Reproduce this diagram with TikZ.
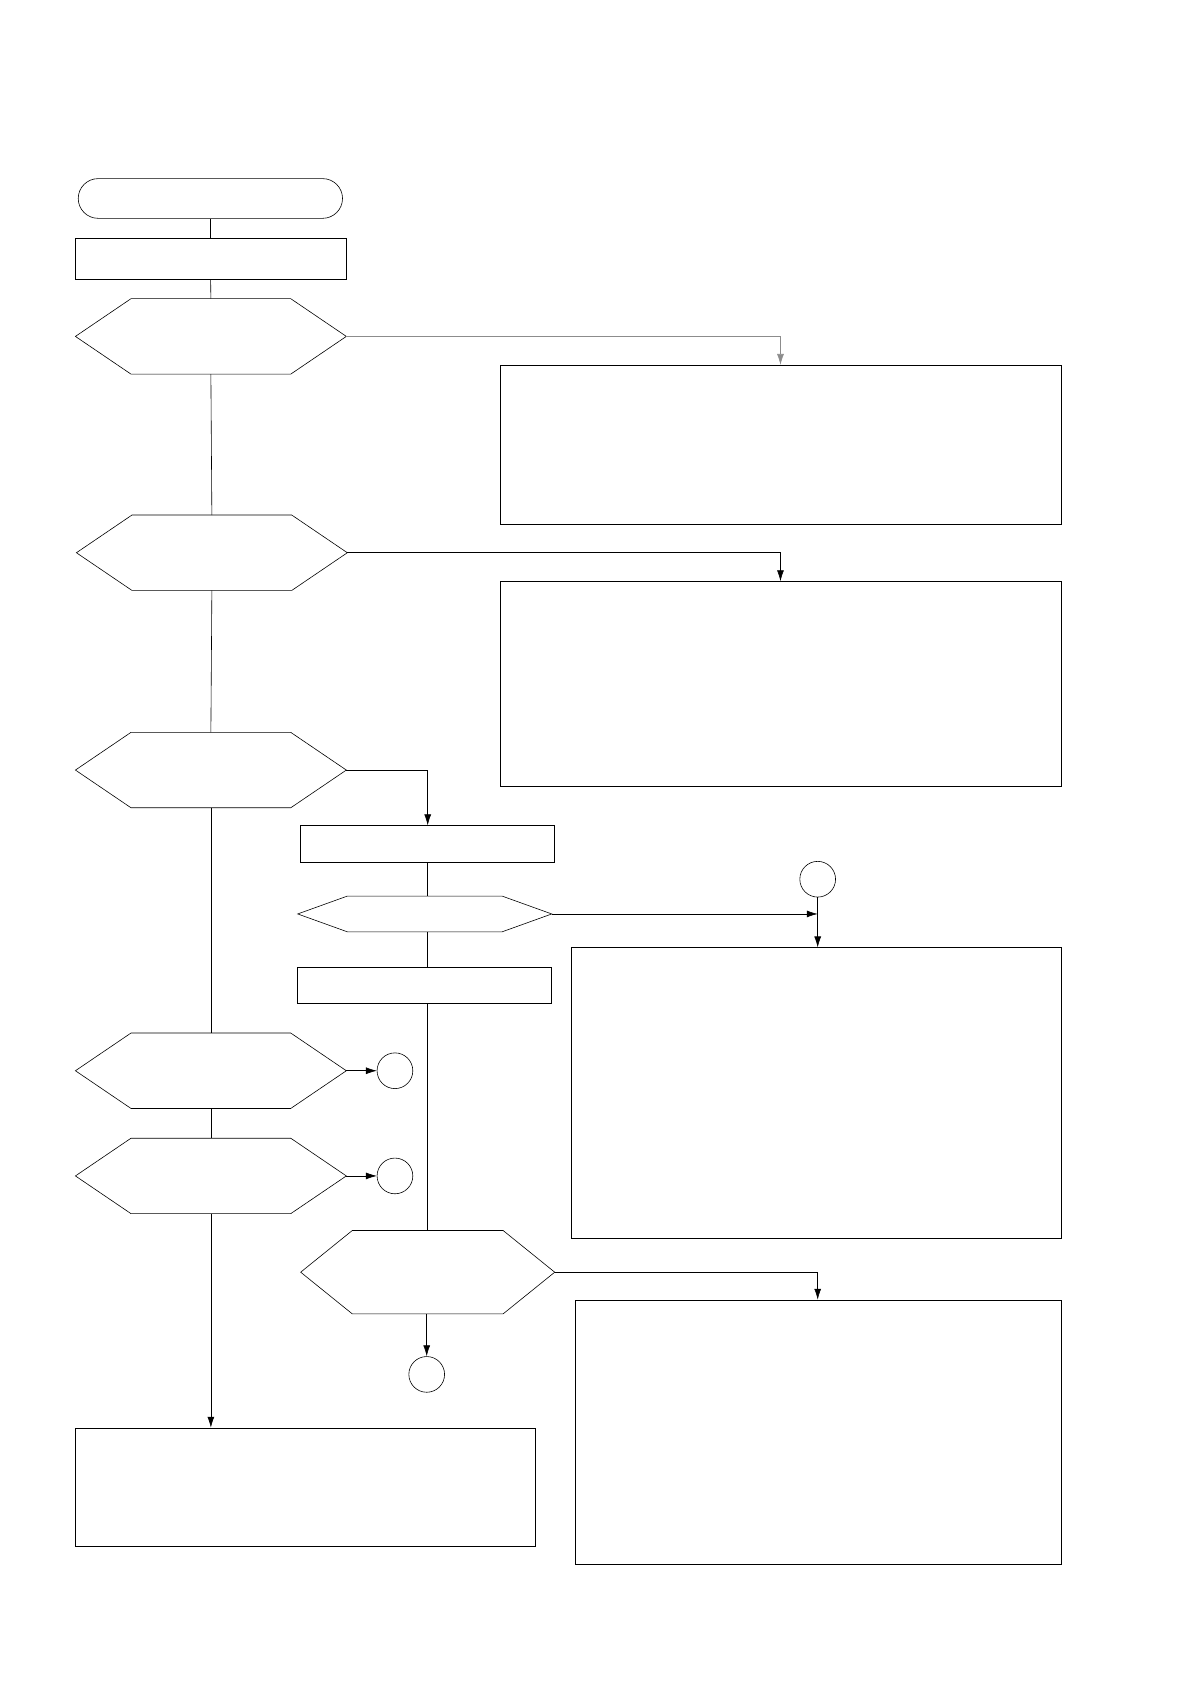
\documentclass[tikz,border=0pt]{standalone}
\usetikzlibrary{positioning}
\usetikzlibrary{shapes,arrows,arrows.meta,shapes.geometric,calc}
\tikzset{
    % Define styles
    pil/.style={-{Latex[length=11pt,width=7pt]}, semithick},
    lin/.style={semithick},
    box/.style={draw, semithick, rectangle, inner sep=0pt},
    conn/.style={draw, semithick, circle, minimum size=36pt, inner sep=0pt},
}
\newcommand{\hexa}[6]{% name, x1, x2, y1, y2, inset
  \draw[semithick] (#2,{(#4+#5)/2}) -- (#2+#6,#4) -- (#3-#6,#4) -- (#3,{(#4+#5)/2})
        -- (#3-#6,#5) -- (#2+#6,#5) -- cycle;
  \coordinate (#1-n) at ({(#2+#3)/2},#4);
  \coordinate (#1-s) at ({(#2+#3)/2},#5);
  \coordinate (#1-e) at (#3,{(#4+#5)/2});
}
\begin{document}
\begin{tikzpicture}[x=1pt,y=-1pt]
\useasboundingbox (0,0) rectangle (1199,1697);

%%%%%%%%%%%%%%%%%%%%%%%%%%%%%%%%%

% left column
\node [draw, semithick, rounded rectangle, minimum width=273pt, minimum height=40pt] (start) at (212,200) {};
\node [box, minimum width=273pt, minimum height=41pt] (init) at (212,260.5) {};
\hexa{qa}{76}{349}{301}{377}{56}
\hexa{qb}{77}{350}{519}{595}{56}
\hexa{qc}{76}{349}{738}{814}{56}
\hexa{qd}{76}{349}{1041}{1117}{56}
\hexa{qe}{76}{349}{1147}{1223}{56}
\node [box, minimum width=463pt, minimum height=119pt] (endbox) at (307.5,1498.5) {};

\draw [lin] (start) -- (init);
\draw [lin] (init) -- (qa-n);
\draw [lin] (qa-s) -- (qb-n);
\draw [lin] (qb-s) -- (qc-n);
\draw [lin] (qc-s) -- (qd-n);
\draw [lin] (qd-s) -- (qe-n);
\draw [pil] (qe-s) -- (endbox.north -| qe-s);

% connectors on the left
\node [conn] (ca) at (398,1079) {};
\node [conn] (cb) at (398,1185) {};
\draw [pil] (qd-e) -- (ca);
\draw [pil] (qe-e) -- (cb);

% right boxes
\node [box, minimum width=565pt, minimum height=160pt] (boxa) at (786.5,448) {};
\node [box, minimum width=565pt, minimum height=206pt] (boxb) at (786.5,689) {};
\draw [pil, black!45] (qa-e) -| (boxa.north);
\draw [pil] (qb-e) -| (boxb.north);

% middle column
\node [box, minimum width=256pt, minimum height=37pt] (sub) at (431,850.5) {};
\hexa{qf}{300}{556}{903}{939}{50}
\node [box, minimum width=256pt, minimum height=36pt] (step) at (428,993) {};
\hexa{qg}{303}{559}{1240}{1324}{52}
\node [conn] (cc) at (430,1385) {};

\draw [pil] (qc-e) -| (sub.north);
\draw [lin] (sub.south) -- (qf-n -| sub.south);
\draw [lin] (qf-s -| sub.south) -- (step.north -| sub.south);
\draw [lin] (step.south -| sub.south) -- (qg-n -| sub.south);
\draw [pil] (qg-s -| cc) -- (cc);

% right lower boxes
\node [conn] (cd) at (824,886) {};
\node [box, minimum width=493pt, minimum height=293pt] (boxd) at (822.5,1101.5) {};
\node [box, minimum width=489pt, minimum height=266pt] (boxf) at (824.5,1443) {};
\draw [pil] (cd) -- (boxd.north -| cd);
\draw [pil] (qf-e) -- (qf-e -| cd);
\draw [pil] (qg-e) -| (boxf.north -| cd);

\end{tikzpicture}
\end{document}
